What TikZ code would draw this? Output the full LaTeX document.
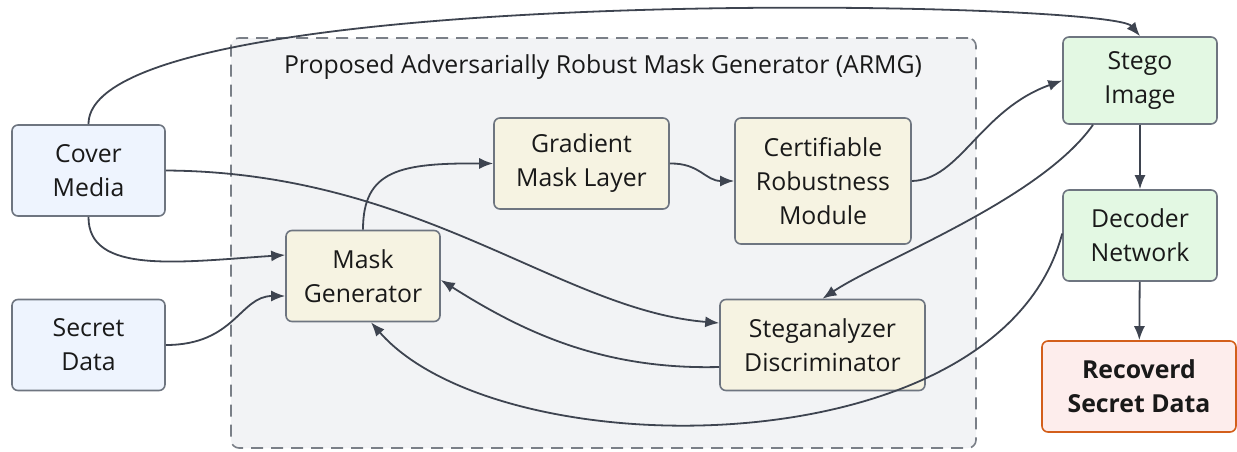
\documentclass[tikz,border=0pt]{standalone}
\usepackage{fontspec}
\setmainfont{Open Sans}
\usetikzlibrary{arrows.meta}
\definecolor{boxline}{HTML}{6E7580}
\definecolor{linkcol}{HTML}{3E4450}
\definecolor{inputfill}{HTML}{EEF4FE}
\definecolor{procfill}{HTML}{F6F3E2}
\definecolor{outfill}{HTML}{E3F8E3}
\definecolor{resfill}{HTML}{FDEDEC}
\definecolor{resline}{HTML}{D35F1B}
\definecolor{armgfill}{HTML}{F2F3F5}
\definecolor{armgline}{HTML}{7A7F87}
\begin{document}
\begin{tikzpicture}[x=1pt, y=-1pt, font=\fontsize{24.8}{34}\selectfont, text=black!90]
        \tikzstyle{box}=[draw=boxline, line width=1.6pt, rounded corners=6pt, align=center, inner sep=0pt];
        \tikzstyle{inputbox}=[box, fill=inputfill, minimum width=153pt, minimum height=91pt];
        \tikzstyle{procbox}=[box, fill=procfill, minimum height=91pt];
        \tikzstyle{outbox}=[box, fill=outfill, minimum width=154pt];
        \tikzstyle{link}=[-{Latex[length=14pt, width=11pt]}, line width=1.8pt, draw=linkcol];

        \useasboundingbox (0,0) rectangle (1237,451);

        \node[draw=armgline, fill=armgfill, line width=1.6pt, dash pattern=on 12pt off 8pt, rounded corners=8pt, minimum width=745pt, minimum height=410pt] (armg) at (603.5,243) {};
        \node (title) at (603,67) {Proposed Adversarially Robust Mask Generator (ARMG)};

        \node[inputbox] (cover) at (88.5,170.5) {Cover\\Media};
        \node[inputbox] (secret) at (88.5,345) {Secret\\Data};
        \node[procbox, minimum width=154pt] (mask) at (363,276) {Mask\\Generator};
        \node[procbox, minimum width=175pt] (gml) at (581.5,163.5) {Gradient\\Mask Layer};
        \node[procbox, minimum width=176pt, minimum height=126pt] (crm) at (823,181) {Certifiable\\Robustness\\Module};
        \node[procbox, minimum width=205pt] (sd) at (822.5,345) {Steganalyzer\\Discriminator};
        \node[outbox, minimum height=87pt] (stego) at (1140,80.5) {Stego\\Image};
        \node[outbox, minimum height=91pt] (decoder) at (1140,235.5) {Decoder\\Network};
        \node[box, draw=resline, fill=resfill, minimum width=194pt, minimum height=91pt, font=\fontsize{24.8}{34}\selectfont\bfseries] (rsd) at (1139,386.5) {Recoverd\\Secret Data};

        \draw[link] (cover.north) .. controls (88,-20) and (1110,0) .. (stego.north);
        \draw[link] (cover.east) .. controls (420,172) and (560,310) .. ([yshift=22pt]sd.west);
        \draw[link] (cover.south) .. controls (88,275) and (180,262) .. ([yshift=21pt]mask.west);
        \draw[link] (secret.east) .. controls (235,345) and (240,296) .. ([yshift=-20pt]mask.west);
        \draw[link] (mask.north) .. controls (363,170) and (400,163) .. (gml.west);
        \draw[link] (gml.east) .. controls (700,163) and (705,181) .. (crm.west);
        \draw[link] (crm.east) .. controls (960,180) and (980,110) .. (stego.west);
        \draw[link] ([xshift=-47pt]stego.south) .. controls (1040,200) and (880,260) .. (sd.north);
        \draw[link] ([yshift=-22pt]sd.west) .. controls (600,370) and (520,330) .. ([yshift=-4pt]mask.east);
        \draw[link] ([yshift=2pt]decoder.west) .. controls (1000,470) and (500,470) .. ([xshift=8pt]mask.south);
        \draw[link] (stego) -- (decoder);
        \draw[link] (decoder) -- (rsd);
    \end{tikzpicture}
\end{document}
